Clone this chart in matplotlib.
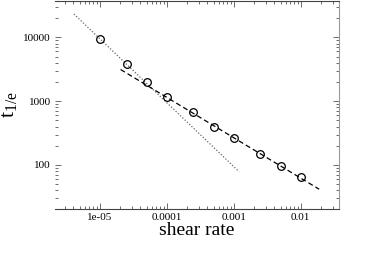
import numpy as np
import matplotlib
matplotlib.use("Agg")
import matplotlib.pyplot as plt
from matplotlib.ticker import LogLocator, FuncFormatter, NullFormatter

plt.rcParams['font.family'] = 'Liberation Serif'
plt.rcParams['mathtext.fontset'] = 'stix'

# data points
shear = [1e-5, 2.5e-5, 5e-5, 1e-4, 2.5e-4, 5e-4, 1e-3, 2.5e-3, 5e-3, 1e-2]
t_1e = [9400, 3800, 1960, 1170, 670, 400, 265, 150, 96, 64]

# fit lines (end points)
dot_x = [4.1e-6, 1.2e-3]
dot_y = [23200, 78.5]
dash_x = [2.04e-5, 0.0188]
dash_y = [3130, 41.7]

fig = plt.figure(figsize=(3.82, 2.54), dpi=100)
ax = fig.add_axes([0.144, 0.177, 0.743, 0.82])

ax.plot(dot_x, dot_y, linestyle=(0, (1, 1.5)), color='#666666', lw=0.9)
ax.plot(dash_x, dash_y, linestyle=(0, (4, 2.5)), color='black', lw=0.9)
ax.plot(shear, t_1e, 'o', mfc='none', mec='black', ms=5.5, mew=0.9)

ax.set_xscale('log')
ax.set_yscale('log')
ax.set_xlim(2.14e-6, 0.037)
ax.set_ylim(20.4, 37400)

ax.xaxis.set_major_locator(LogLocator(base=10, numticks=10))
ax.yaxis.set_major_locator(LogLocator(base=10, numticks=10))
fmt = FuncFormatter(lambda v, p: '%g' % v)
ax.xaxis.set_major_formatter(fmt)
ax.yaxis.set_major_formatter(fmt)
ax.xaxis.set_minor_formatter(NullFormatter())
ax.yaxis.set_minor_formatter(NullFormatter())

ax.tick_params(which='both', direction='in', top=True, right=True,
               labelsize=8, width=0.6, color='#555555', pad=3)
ax.tick_params(which='major', length=4)
ax.tick_params(which='minor', length=2)

ax.spines['left'].set_visible(False)
ax.spines['right'].set_color('#999999')
for s in ['top', 'bottom']:
    ax.spines[s].set_color('#444444')
for s in ax.spines.values():
    s.set_linewidth(0.8)

ax.set_xlabel('shear rate', fontsize=14, labelpad=0)
ax.set_ylabel(r'$\mathregular{t_{1/e}}$', fontsize=16, labelpad=3)

fig.savefig('out.png', dpi=100)
